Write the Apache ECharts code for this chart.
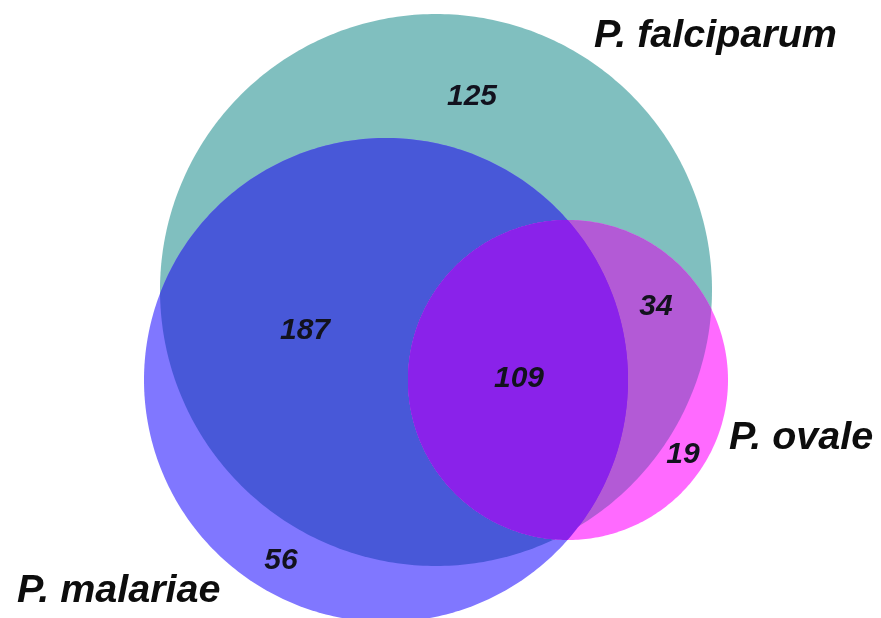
<!DOCTYPE html>
<html><head><meta charset="utf-8">
<script src="https://cdn.jsdelivr.net/npm/echarts@6/dist/echarts.min.js"></script>
<style>html,body{margin:0;padding:0;background:#fff}#chart{width:881px;height:618px}</style>
</head><body><div id="chart"></div>
<script>
// ---- data ----
const setNames = ['P. falciparum', 'P. malariae', 'P. ovale'];
const regionNames = ['falciparum only', 'falciparum & malariae', 'all three', 'falciparum & ovale', 'ovale only', 'malariae only'];
const regionCounts = [125, 187, 109, 34, 19, 56];

// ---- layout (in axis units; axes span the whole canvas) ----
const circleCenters = [[436, 290], [386, 380], [568, 380]];
const circleRadii = [276, 242, 160];
const setLabelPos = [[594, 36], [17, 591], [729, 438]];
const regionLabelPos = [[472, 97], [305, 331], [519, 379], [656, 307], [683, 455], [281, 561]];
const layers = [
  { sets: [0], color: '#80bfbf' },
  { sets: [1], color: '#8077ff' },
  { sets: [0, 1], color: '#4858d8' },
  { sets: [2], color: '#ff6aff' },
  { sets: [0, 2], color: '#b35ad6' },
  { sets: [1, 2], color: '#8a22ea' },
  { sets: [0, 1, 2], color: '#8a22ea' }
];

function circlePoly(c, r, n) {
  const pts = [];
  for (let i = 0; i < n; i++) {
    const a = (i / n) * Math.PI * 2;
    pts.push([c[0] + r * Math.cos(a), c[1] + r * Math.sin(a)]);
  }
  return pts;
}
function clip(subject, clipPoly) {
  let area = 0;
  for (let i = 0; i < clipPoly.length; i++) {
    const p = clipPoly[i], q = clipPoly[(i + 1) % clipPoly.length];
    area += p[0] * q[1] - q[0] * p[1];
  }
  const s = area > 0 ? 1 : -1;
  let out = subject;
  for (let i = 0; i < clipPoly.length && out.length; i++) {
    const A = clipPoly[i], B = clipPoly[(i + 1) % clipPoly.length];
    const inside = P => s * ((B[0] - A[0]) * (P[1] - A[1]) - (B[1] - A[1]) * (P[0] - A[0])) >= 0;
    const inter = (P, Q) => {
      const x1 = P[0], y1 = P[1], x2 = Q[0], y2 = Q[1];
      const x3 = A[0], y3 = A[1], x4 = B[0], y4 = B[1];
      const d = (x1 - x2) * (y3 - y4) - (y1 - y2) * (x3 - x4);
      const t = ((x1 - x3) * (y3 - y4) - (y1 - y3) * (x3 - x4)) / d;
      return [x1 + t * (x2 - x1), y1 + t * (y2 - y1)];
    };
    const input = out; out = [];
    for (let j = 0; j < input.length; j++) {
      const P = input[j], Q = input[(j + 1) % input.length];
      const pin = inside(P), qin = inside(Q);
      if (pin) { out.push(P); if (!qin) out.push(inter(P, Q)); }
      else if (qin) { out.push(inter(P, Q)); }
    }
  }
  return out;
}

const chart = echarts.init(document.getElementById('chart'), null, { renderer: 'canvas' });
const labelFont = 'italic bold 39.5px "Liberation Sans", Arial, sans-serif';
const numFont = 'italic bold 30px "Liberation Sans", Arial, sans-serif';

chart.setOption({
  animation: false,
  backgroundColor: '#ffffff',
  grid: { left: 0, right: 0, top: 0, bottom: 0 },
  xAxis: { type: 'value', min: 0, max: 881, show: false },
  yAxis: { type: 'value', min: 0, max: 618, inverse: true, show: false },
  series: [
    {
      type: 'custom', silent: true,
      data: layers.map((l, i) => [i]),
      renderItem: function (params, api) {
        const layer = layers[api.value(0)];
        const circ = layer.sets.map(k => {
          const c = api.coord(circleCenters[k]);
          const r = api.size([circleRadii[k], 0])[0];
          return circlePoly(c, r, 400);
        });
        let poly = circ[0];
        for (let k = 1; k < circ.length; k++) poly = clip(poly, circ[k]);
        return { type: 'polygon', shape: { points: poly }, style: { fill: layer.color, stroke: null } };
      }
    },
    {
      type: 'custom', silent: true,
      data: regionCounts.map((v, i) => [regionLabelPos[i][0], regionLabelPos[i][1], v]),
      renderItem: function (params, api) {
        const p = api.coord([api.value(0), api.value(1)]);
        return { type: 'text', x: p[0], y: p[1], style: { text: String(api.value(2)), font: numFont, fill: '#12121e', align: 'center', verticalAlign: 'middle' } };
      }
    },
    {
      type: 'custom', silent: true,
      data: setNames.map((n, i) => [setLabelPos[i][0], setLabelPos[i][1], i]),
      renderItem: function (params, api) {
        const p = api.coord([api.value(0), api.value(1)]);
        return { type: 'text', x: p[0], y: p[1], style: { text: setNames[api.value(2)], font: labelFont, fill: '#0d0d0d', align: 'left', verticalAlign: 'middle' } };
      }
    }
  ]
});
</script></body></html>
